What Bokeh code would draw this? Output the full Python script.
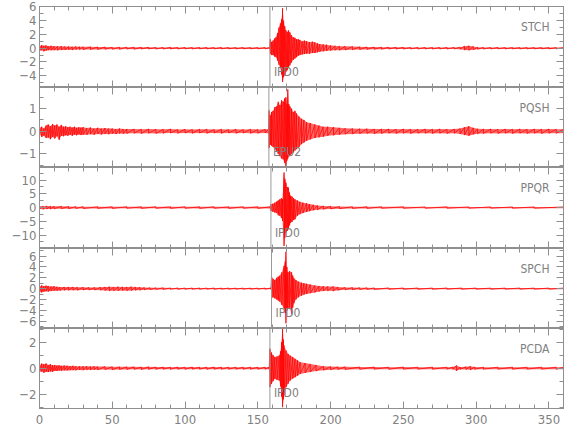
from bokeh.plotting import figure
from bokeh.layouts import column
from bokeh.models import (Range1d, LinearAxis, SingleIntervalTicker, Span, Label,
                          CustomJSTickFormatter)
from bokeh.embed import file_html
from bokeh.resources import INLINE

# ---------------- data: per-station trace envelope (time, upper, lower) ----------------
stations = ["STCH", "PQSH", "PPQR", "SPCH", "PCDA"]
pick_names = ["IPD0", "EPU2", "IPD0", "IPD0", "IPD0"]
pick_times = [158.3, 157.6, 159.0, 159.4, 158.3]
y_limits = [(-5.7, 6.05), (-1.6, 1.93), (-14.9, 14.6), (-7.35, 7.4), (-3.1, 3.05)]
y_tick_steps = [2, 1, 5, 2, 2]
x_limits = (0, 360)
x_tick_step = 50

stch_t = [0, 1.5, 3, 4.5, 6, 8, 10, 12.5, 15, 17.5, 20, 22.5, 25, 27.5, 30, 35, 40, 45, 50, 55,
          60, 65, 70, 75, 80, 85, 90, 95, 100, 105, 110, 115, 120, 125, 130, 135, 140, 145, 150, 155, 158.0,
          158.6, 159.5, 160.5, 161.5, 162.5, 163.5, 164.5, 165.5, 166.3, 167.0, 167.7, 168.5, 169.3, 170.2,
          171.0, 172.0, 173.0, 174.3, 175.5, 176.6, 177.8, 178.9, 180.5, 182, 183.5, 185.5, 187.5, 189.2,
          191, 192.6, 195, 197.2, 200,
          203, 206, 210, 215, 220, 225, 230, 235, 240, 245, 250, 255, 260, 265, 270, 275, 280, 285, 289, 292,
          295, 298, 301, 305, 310, 315, 320, 325, 330, 335, 340, 345, 350, 355, 360]
stch_up = [0.3, 0.45, 0.35, 0.4, 0.3, 0.35, 0.3, 0.28, 0.3, 0.25, 0.25, 0.22, 0.25, 0.2, 0.2, 0.2, 0.18, 0.18, 0.15, 0.15,
           0.15, 0.14, 0.13, 0.14, 0.12, 0.12, 0.13, 0.12, 0.12, 0.11, 0.12, 0.11, 0.1, 0.11, 0.1, 0.1, 0.11, 0.1, 0.1, 0.1, 0.1,
           1.3, 0.9, 1.1, 1.4, 1.6, 2.2, 3.0, 3.6, 4.2, 5.8, 4.0, 3.2, 2.6, 2.3,
           2.6, 2.3, 1.9, 1.6, 1.5, 1.3, 1.3, 1.2, 1.0, 1.1, 1.0, 0.9, 0.95, 0.85,
           0.7, 0.6, 0.55, 0.5, 0.4,
           0.35, 0.3, 0.28, 0.25, 0.2, 0.18, 0.16, 0.15, 0.14, 0.13, 0.13, 0.12, 0.12, 0.12, 0.11, 0.12, 0.11, 0.12, 0.15, 0.3,
           0.35, 0.25, 0.15, 0.12, 0.11, 0.12, 0.1, 0.11, 0.1, 0.1, 0.1, 0.1, 0.1, 0.1, 0.1]
stch_lo = [-0.4, -0.3, -0.45, -0.35, -0.3, -0.3, -0.28, -0.3, -0.25, -0.25, -0.22, -0.25, -0.2, -0.2, -0.2, -0.18, -0.18, -0.15, -0.15, -0.15,
           -0.13, -0.14, -0.12, -0.12, -0.13, -0.12, -0.11, -0.12, -0.1, -0.11, -0.1, -0.11, -0.1, -0.1, -0.1, -0.11, -0.1, -0.1, -0.1, -0.1, -0.1,
           -0.8, -1.0, -1.0, -1.2, -1.3, -1.8, -2.4, -2.9, -3.8, -4.9, -4.2, -3.9, -3.4, -3.2,
           -2.8, -2.5, -2.1, -1.7, -1.5, -1.3, -1.1, -1.0, -0.9, -0.85, -0.8, -0.8, -0.7, -0.7,
           -0.6, -0.5, -0.45, -0.4, -0.35,
           -0.3, -0.28, -0.25, -0.22, -0.2, -0.17, -0.15, -0.14, -0.13, -0.13, -0.12, -0.12, -0.12, -0.11, -0.12, -0.11, -0.12, -0.11, -0.15, -0.25,
           -0.3, -0.22, -0.14, -0.12, -0.11, -0.1, -0.11, -0.1, -0.1, -0.1, -0.1, -0.1, -0.1, -0.1, -0.1]

pqsh_t = [0, 1.5, 3, 4.5, 6, 7.5, 9, 10.5, 12, 13.5, 15, 16.5, 18, 19.5, 21, 22.5, 24, 25.5, 27, 28.5,
          30, 32.5, 35, 37.5, 40, 42.5, 45, 47.5, 50, 52.5, 55, 57.5, 60, 65, 70, 75, 80, 85, 90, 95,
          100, 105, 110, 115, 120, 125, 130, 135, 140, 145, 150, 155, 157.3,
          157.7, 158.5, 159.4, 160.5, 161.7, 163, 164, 165.2, 166.3, 167.4, 168.4, 169.3, 170.0, 170.6, 171.3,
          172, 173.2, 174.3, 175.5, 176.6, 178.3, 180, 181.7, 183.5, 186, 189.2, 192, 194.9, 198,
          202, 206, 210, 215, 220, 225, 230, 235, 240, 245, 250, 255, 260, 265, 270, 275, 280, 285, 289, 292,
          295, 298, 301, 305, 310, 315, 320, 325, 330, 335, 340, 345, 350, 355, 360]
pqsh_up = [0.15, 0.2, 0.12, 0.25, 0.3, 0.22, 0.32, 0.25, 0.3, 0.2, 0.28, 0.2, 0.22, 0.18, 0.2, 0.16, 0.2, 0.15, 0.18, 0.16,
           0.18, 0.14, 0.16, 0.12, 0.15, 0.12, 0.14, 0.12, 0.12, 0.1, 0.12, 0.1, 0.1, 0.1, 0.09, 0.1, 0.09, 0.09, 0.1, 0.08,
           0.09, 0.08, 0.09, 0.09, 0.08, 0.09, 0.08, 0.09, 0.08, 0.09, 0.08, 0.09, 0.09,
           0.93, 0.7, 0.85, 0.9, 1.07, 1.1, 1.3, 1.15, 1.37, 1.3, 1.45, 1.5, 1.2, 1.85, 1.2,
           1.1, 1.0, 0.85, 0.9, 0.78, 0.65, 0.55, 0.5, 0.4, 0.36, 0.3, 0.25, 0.2, 0.2,
           0.18, 0.15, 0.13, 0.12, 0.11, 0.11, 0.1, 0.1, 0.1, 0.09, 0.1, 0.09, 0.09, 0.1, 0.09, 0.1, 0.09, 0.1, 0.12, 0.18,
           0.22, 0.15, 0.11, 0.1, 0.1, 0.09, 0.1, 0.09, 0.1, 0.09, 0.1, 0.09, 0.1, 0.09, 0.09]
pqsh_lo = [-0.12, -0.25, -0.2, -0.3, -0.28, -0.35, -0.25, -0.32, -0.22, -0.38, -0.2, -0.22, -0.18, -0.2, -0.16, -0.2, -0.15, -0.18, -0.14, -0.17,
           -0.15, -0.16, -0.13, -0.15, -0.12, -0.14, -0.12, -0.13, -0.11, -0.12, -0.1, -0.11, -0.1, -0.09, -0.1, -0.09, -0.1, -0.09, -0.08, -0.09,
           -0.08, -0.09, -0.08, -0.09, -0.08, -0.09, -0.08, -0.09, -0.08, -0.09, -0.09, -0.08, -0.1,
           -0.75, -0.6, -0.64, -0.7, -0.79, -0.9, -1.0, -1.1, -1.2, -1.24, -1.4, -1.54, -1.3, -1.2, -1.1,
           -1.1, -1.0, -0.94, -0.85, -0.79, -0.7, -0.57, -0.5, -0.42, -0.36, -0.3, -0.27, -0.24, -0.2,
           -0.18, -0.15, -0.13, -0.12, -0.11, -0.1, -0.11, -0.1, -0.09, -0.1, -0.09, -0.1, -0.09, -0.09, -0.1, -0.09, -0.1, -0.09, -0.12, -0.17,
           -0.2, -0.14, -0.11, -0.1, -0.09, -0.1, -0.09, -0.1, -0.09, -0.1, -0.09, -0.1, -0.09, -0.09, -0.09]

ppqr_t = [0, 2.5, 5, 7.5, 10, 15, 20, 25, 30, 40, 50, 60, 70, 80, 90, 100, 110, 120, 130, 140, 150, 158.5,
          159, 160.3, 161.7, 163, 164, 165.1, 166.2, 167.0, 168.0, 168.6, 169.3, 170.2, 171.0, 171.8, 172.5, 173.5,
          174.5, 175.5, 177.2, 178.9, 181, 183.5, 185.5, 188.1, 191, 195, 200,
          206, 215, 225, 235, 250, 265, 280, 295, 310, 325, 340, 360]
ppqr_up = [0.6, 0.5, 0.6, 0.5, 0.45, 0.45, 0.4, 0.35, 0.35, 0.3, 0.3, 0.3, 0.28, 0.3, 0.28, 0.3, 0.28, 0.3, 0.28, 0.3, 0.28, 0.3,
           1.2, 1.4, 1.8, 2.2, 2.6, 3.0, 3.4, 3.0, 12.8, 10.5, 9.1, 7.5, 7.3, 5.5, 4.3, 4.0,
           3.4, 3.0, 2.6, 2.1, 1.8, 1.6, 1.3, 1.0, 0.8, 0.6, 0.5,
           0.4, 0.32, 0.3, 0.28, 0.28, 0.25, 0.26, 0.25, 0.25, 0.24, 0.25, 0.25]
ppqr_lo = [-0.5, -0.6, -0.5, -0.55, -0.45, -0.4, -0.4, -0.35, -0.35, -0.3, -0.3, -0.28, -0.3, -0.28, -0.3, -0.28, -0.3, -0.28, -0.3, -0.28, -0.3, -0.3,
           -1.2, -1.5, -1.8, -2.0, -2.8, -3.0, -3.8, -4.9, -14.0, -11.0, -9.1, -8.5, -7.9, -6.5, -5.5, -5.2,
           -4.5, -4.3, -3.0, -2.4, -2.0, -1.6, -1.3, -1.0, -0.8, -0.6, -0.5,
           -0.4, -0.32, -0.3, -0.28, -0.27, -0.26, -0.25, -0.25, -0.24, -0.25, -0.25, -0.25]

spch_t = [0, 1.5, 3, 4.5, 6, 8, 10, 12, 14, 17, 20, 23, 26, 30, 34, 38, 42, 45, 48, 51,
          54, 57, 60, 63, 66, 69, 72, 76, 80, 85, 90, 95, 100, 105, 110, 115, 120, 125, 130, 135,
          140, 145, 150, 155, 159.0,
          159.4, 160.5, 161.7, 163, 164, 165.1, 166.5, 168, 168.8, 169.3, 170.0, 170.6, 171.8, 173.2, 174.0, 174.8,
          176.2, 177.8, 180, 181.7, 183.5, 186, 189.2, 192, 195, 198, 201.8,
          205, 210, 215, 220, 225, 230, 240, 250, 260, 270, 280, 290, 300, 310, 320, 330, 340, 350, 360]
spch_up = [0.4, 0.6, 0.45, 0.55, 0.5, 0.4, 0.45, 0.35, 0.3, 0.3, 0.28, 0.3, 0.25, 0.25, 0.22, 0.22, 0.25, 0.3, 0.35, 0.3,
           0.35, 0.32, 0.3, 0.35, 0.28, 0.25, 0.2, 0.18, 0.15, 0.15, 0.13, 0.13, 0.12, 0.12, 0.12, 0.11, 0.12, 0.1, 0.11, 0.1,
           0.1, 0.1, 0.1, 0.1, 0.12,
           2.4, 1.8, 1.6, 2.0, 2.2, 2.4, 3.0, 4.2, 5.0, 6.8, 4.0, 3.0, 3.2, 3.0, 2.4, 1.9,
           1.6, 1.3, 1.1, 1.0, 0.9, 0.75, 0.6, 0.5, 0.45, 0.4, 0.4,
           0.3, 0.22, 0.2, 0.17, 0.15, 0.14, 0.13, 0.12, 0.12, 0.11, 0.12, 0.12, 0.11, 0.1, 0.1, 0.11, 0.1, 0.1, 0.1]
spch_lo = [-0.6, -0.7, -0.55, -0.5, -0.55, -0.45, -0.4, -0.4, -0.35, -0.3, -0.3, -0.28, -0.28, -0.25, -0.25, -0.25, -0.28, -0.35, -0.4, -0.38,
           -0.4, -0.35, -0.38, -0.35, -0.3, -0.28, -0.22, -0.2, -0.15, -0.15, -0.13, -0.13, -0.12, -0.12, -0.12, -0.11, -0.12, -0.1, -0.11, -0.1,
           -0.1, -0.1, -0.1, -0.1, -0.12,
           -1.8, -1.6, -1.8, -2.0, -2.2, -2.4, -3.0, -3.6, -4.5, -6.4, -4.0, -3.6, -3.5, -4.7, -3.5, -2.7,
           -2.0, -1.6, -1.3, -1.1, -1.0, -0.85, -0.7, -0.55, -0.45, -0.4, -0.45,
           -0.3, -0.22, -0.2, -0.17, -0.15, -0.14, -0.13, -0.12, -0.12, -0.12, -0.11, -0.12, -0.1, -0.11, -0.1, -0.1, -0.1, -0.1, -0.1]

pcda_t = [0, 1.5, 3, 4.5, 6, 7.5, 9, 10.5, 12, 13.5, 15, 17, 19, 21, 23, 25, 27.5, 30, 32.5, 35,
          37.5, 40, 45, 50, 55, 60, 65, 70, 75, 80, 85, 90, 95, 100, 105, 110, 115, 120, 125, 130,
          135, 140, 145, 150, 155, 157.8,
          158.3, 159.4, 160.5, 161.7, 163.2, 164.7, 165.6, 166.3, 167.0, 167.6, 168.0, 169.4, 170.8, 172.2, 174, 175.6,
          177.3, 179.1, 182.5, 186, 190, 195.2, 200,
          205, 210, 220, 230, 240, 250, 260, 270, 280, 284, 286.5, 289, 293, 296, 299, 305, 315, 325, 335, 345, 355, 360]
pcda_up = [0.2, 0.35, 0.3, 0.36, 0.25, 0.3, 0.22, 0.25, 0.2, 0.22, 0.18, 0.2, 0.18, 0.16, 0.18, 0.15, 0.15, 0.14, 0.15, 0.13,
           0.14, 0.12, 0.12, 0.11, 0.1, 0.1, 0.1, 0.09, 0.1, 0.09, 0.09, 0.08, 0.09, 0.08, 0.09, 0.08, 0.08, 0.09, 0.08, 0.08,
           0.08, 0.08, 0.08, 0.08, 0.08, 0.08,
           1.5, 1.2, 1.0, 0.85, 0.9, 0.97, 1.3, 2.0, 3.2, 2.2, 1.75, 1.36, 1.1, 0.97, 0.85, 0.72,
           0.6, 0.46, 0.4, 0.33, 0.25, 0.15, 0.12,
           0.1, 0.1, 0.09, 0.09, 0.08, 0.09, 0.08, 0.08, 0.08, 0.09, 0.2, 0.09, 0.1, 0.14, 0.09, 0.08, 0.08, 0.08, 0.08, 0.08, 0.08, 0.08]
pcda_lo = [-0.3, -0.25, -0.35, -0.28, -0.3, -0.25, -0.28, -0.2, -0.22, -0.18, -0.2, -0.17, -0.18, -0.16, -0.15, -0.16, -0.14, -0.15, -0.13, -0.14,
           -0.12, -0.13, -0.11, -0.12, -0.1, -0.1, -0.09, -0.1, -0.09, -0.09, -0.08, -0.09, -0.08, -0.09, -0.08, -0.08, -0.09, -0.08, -0.08, -0.08,
           -0.08, -0.08, -0.08, -0.08, -0.08, -0.08,
           -1.46, -1.2, -1.0, -0.82, -0.9, -0.95, -1.4, -2.2, -3.0, -2.4, -2.1, -1.46, -1.2, -0.95, -0.8, -0.7,
           -0.58, -0.44, -0.37, -0.3, -0.22, -0.15, -0.12,
           -0.1, -0.1, -0.09, -0.08, -0.09, -0.08, -0.08, -0.08, -0.08, -0.09, -0.2, -0.09, -0.1, -0.12, -0.09, -0.08, -0.08, -0.08, -0.08, -0.08, -0.08, -0.08]

traces = [(stch_t, stch_up, stch_lo), (pqsh_t, pqsh_up, pqsh_lo), (ppqr_t, ppqr_up, ppqr_lo),
          (spch_t, spch_up, spch_lo), (pcda_t, pcda_up, pcda_lo)]

# ---------------- styling ----------------
GRAY = "#8f8f8f"
TEXT = "#808080"
FONT = "DejaVu Sans Condensed, Liberation Sans Narrow, Liberation Sans, sans-serif"
minus_fmt = "return tick < 0 ? '\u2212' + (-tick) : '' + tick;"

x_range = Range1d(*x_limits)


def make_axis(interval, show_labels, standoff=3):
    ax = LinearAxis(ticker=SingleIntervalTicker(interval=interval, num_minor_ticks=5 if interval == 50 else 2))
    ax.axis_line_color = GRAY
    ax.major_tick_line_color = GRAY
    ax.minor_tick_line_color = GRAY
    ax.major_tick_in = 7
    ax.major_tick_out = 0
    ax.minor_tick_in = 4
    ax.minor_tick_out = 0
    if show_labels:
        ax.formatter = CustomJSTickFormatter(code=minus_fmt)
        ax.major_label_text_font = FONT
        ax.major_label_text_font_size = "13px"
        ax.major_label_text_color = TEXT
        ax.major_label_standoff = standoff
    else:
        ax.formatter = CustomJSTickFormatter(code="return '';")
        ax.major_label_standoff = 0
    return ax


frame_heights = [81, 80, 81, 80, 80]
figs = []
n = len(stations)
for i in range(n):
    first = i == 0
    last = i == n - 1
    top = 6 if first else 0
    bottom = 24 if last else 0
    p = figure(width=39 + 524 + 12, height=frame_heights[i] + top + bottom, x_range=x_range,
               y_range=Range1d(*y_limits[i]),
               output_backend="svg", toolbar_location=None, x_axis_type=None, y_axis_type=None,
               min_border_left=39, min_border_right=12, min_border_top=top, min_border_bottom=bottom)
    p.add_layout(make_axis(y_tick_steps[i], True), "left")
    p.add_layout(make_axis(y_tick_steps[i], False), "right")
    p.add_layout(make_axis(x_tick_step, False), "above")
    p.add_layout(make_axis(x_tick_step, last, standoff=6), "below")
    p.xgrid.visible = False
    p.ygrid.visible = False
    p.outline_line_color = GRAY
    p.background_fill_color = "white"
    p.border_fill_color = "white"

    t, up, lo = traces[i]
    xs, ys = [], []
    for tk, u, l in zip(t, up, lo):
        xs += [tk, tk]
        ys += [u, l]
    p.varea(x=t, y1=lo, y2=up, fill_color="#ff0000", fill_alpha=0.6)
    p.line(xs, ys, line_color="#ff0000", line_width=0.8, line_alpha=0.95)

    p.add_layout(Span(location=pick_times[i], dimension="height", line_color="#9a9a9a", line_width=1))
    p.add_layout(Label(x=pick_times[i], y=y_limits[i][0], x_offset=4, y_offset=16, text=pick_names[i],
                       text_font=FONT, text_font_size="12px", text_color=TEXT, text_baseline="middle"))
    p.add_layout(Label(x=x_limits[1], y=y_limits[i][1], x_offset=-14, y_offset=-20, text=stations[i],
                       text_font=FONT, text_font_size="12px", text_color=TEXT, text_align="right",
                       text_baseline="middle"))
    figs.append(p)

layout = column(*figs, spacing=0)
open("out.html", "w").write(file_html(layout, INLINE))
